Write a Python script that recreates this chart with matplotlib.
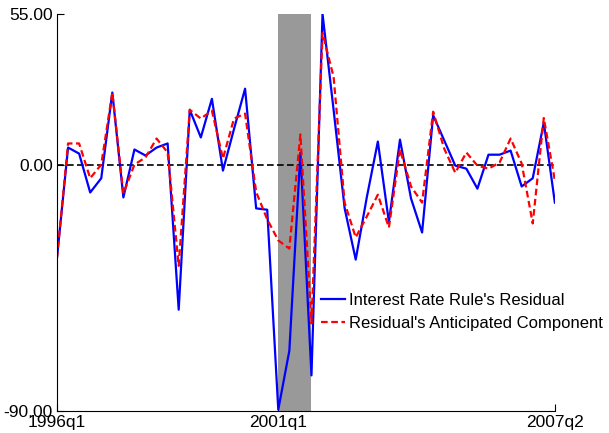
import matplotlib
matplotlib.use("Agg")
import matplotlib.pyplot as plt
import numpy as np

# quarters 1996q1 .. 2007q2
quarters = [f"{y}q{q}" for y in range(1996, 2008) for q in range(1, 5)][:46]
residual = [-34, 6.2, 4, -10.2, -5, 26.3, -12, 5.5, 3.3, 6.2,
            7.7, -53, 20, 9.9, 24, -2.2, 13, 27.7, -16, -16.5,
            -89.5, -68, 4.4, -77, 55, 20, -16, -34.7, -12, 8.4,
            -21, 9.1, -12.4, -24.8, 18, 8.8, -0.4, -1.5, -8.8, 3.6,
            3.6, 5.1, -8, -5, 15.3, -13.9]
anticipated = [-34, 7.7, 7.7, -5, 0, 26.3, -10.6, 0, 2.6, 9.5,
               4.4, -37, 20, 16.8, 19.7, 2.2, 16.8, 18.6, -10, -20,
               -27.7, -30.7, 11, -58, 48, 32, -14, -26.6, -19, -11,
               -23, 5.5, -8, -13.9, 19.3, 5.8, -3, 4.4, -0.4, -1.5,
               0.7, 9.5, 0.4, -21.5, 17, -5.8]
recession = ("2001q1", "2001q4")
tick_labels = ["1996q1", "2001q1", "2007q2"]

plt.rcParams['font.family'] = ['Liberation Sans', 'DejaVu Sans']

fig = plt.figure(figsize=(6.09, 4.33), dpi=100)
ax = fig.add_axes([0.0936, 0.0508, 0.8175, 0.917])

x = np.arange(len(quarters))
r0, r1 = quarters.index(recession[0]), quarters.index(recession[1])
ax.axvspan(r0, r1, color="#999999", lw=0)
ax.axhline(0, color="black", ls="--", lw=1.2, dashes=(4, 2))
ax.plot(x, residual, color="blue", lw=1.6, label="Interest Rate Rule's Residual")
ax.plot(x, anticipated, color="red", lw=1.6, ls="--", dashes=(3, 1.6),
        label="Residual's Anticipated Component")

ax.set_xlim(0, len(quarters) - 1)
ax.set_ylim(-90, 55)
ax.set_yticks([-90, 0, 55])
ax.set_yticklabels(["-90.00", "0.00", "55.00"])
ax.set_xticks([quarters.index(t) for t in tick_labels])
ax.set_xticklabels(tick_labels)
ax.tick_params(direction="in", labelsize=12.5, length=5, pad=3)
for s in ["top", "right"]:
    ax.spines[s].set_visible(False)

ax.legend(loc="center left", bbox_to_anchor=(0.516, 0.249), frameon=False,
          fontsize=12, handlelength=1.45, handletextpad=0.25,
          labelspacing=0.5, borderaxespad=0)

fig.savefig("out.png", dpi=100)
